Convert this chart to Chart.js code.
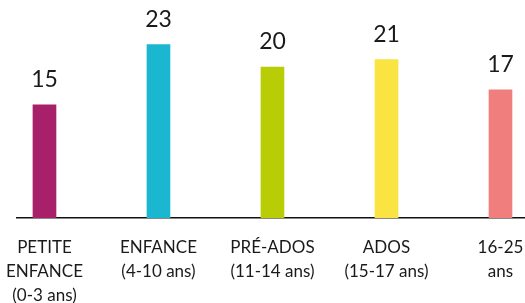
<!DOCTYPE html>
<html>
<head>
<meta charset="utf-8">
<script src="https://cdn.jsdelivr.net/npm/chart.js@4"></script>
<style>
  html, body { margin: 0; padding: 0; background: #fff; }
  #wrap { width: 525px; height: 303px; }
</style>
</head>
<body>
<div id="wrap"><canvas id="ageChart"></canvas></div>
<script>
// data
const categories = [
    ['PETITE', 'ENFANCE', '(0-3 ans)'],
    ['ENFANCE', '(4-10 ans)'],
    ['PRÉ-ADOS', '(11-14 ans)'],
    ['ADOS', '(15-17 ans)'],
    ['16-25', 'ans']
];
const values = [15, 23, 20, 21, 17];
const barColors = ['#a8206a', '#1bb7d0', '#b9cd06', '#f9e442', '#ef7e7c'];

const fontFamily = 'Lato, "Open Sans", sans-serif';

// draw the number above each bar
const valueLabels = {
    id: 'valueLabels',
    afterDatasetsDraw(chart) {
        const ctx = chart.ctx;
        const meta = chart.getDatasetMeta(0);
        ctx.save();
        ctx.font = '23px ' + fontFamily;
        ctx.fillStyle = '#1a1a1a';
        ctx.textAlign = 'center';
        ctx.textBaseline = 'alphabetic';
        meta.data.forEach((bar, i) => {
            ctx.fillText(values[i], bar.x, bar.y - 18);
        });
        ctx.restore();
    }
};

const ctx = document.getElementById('ageChart').getContext('2d');
const ageChart = new Chart(ctx, {
    type: 'bar',
    data: {
        datasets: [{
            data: values.map((v, i) => ({ x: i, y: v })),
            backgroundColor: barColors,
            barThickness: 23
        }]
    },
    options: {
        responsive: true,
        maintainAspectRatio: false,
        animation: false,
        layout: { padding: { left: 17, right: 0, top: 0, bottom: 0 } },
        scales: {
            x: {
                type: 'linear',
                offset: false,
                min: -0.241,
                max: 4.215,
                grid: { display: false, drawTicks: false, offset: false },
                border: { display: true, color: '#111', width: 1.5 },
                afterBuildTicks: s => { s.ticks = categories.map((c, i) => ({ value: i })); },
                afterFit: s => { s.height = 85; s.paddingLeft = 0; s.paddingRight = 0; },
                ticks: {
                    padding: 18,
                    color: '#1a1a1a',
                    maxRotation: 0,
                    autoSkip: false,
                    font: { family: fontFamily, size: 17, lineHeight: 1.4 },
                    callback: (v) => categories[v]
                }
            },
            y: {
                display: false,
                min: 0,
                max: 28.9
            }
        },
        plugins: {
            legend: { display: false },
            tooltip: { enabled: false }
        }
    },
    plugins: [valueLabels]
});
</script>
</body>
</html>
